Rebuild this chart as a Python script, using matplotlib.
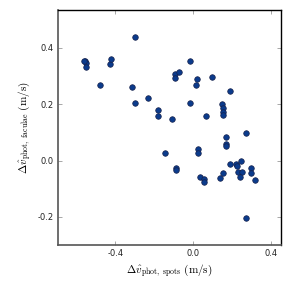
import matplotlib
matplotlib.use("Agg")
import matplotlib.pyplot as plt

plt.rcParams['mathtext.fontset'] = 'cm'

# delta v_phot from spots / faculae (m/s)
dv_spots = [-0.556, -0.553, -0.551, -0.563, -0.480, -0.429, -0.423, -0.297, -0.316,
            -0.299, -0.231, -0.180, -0.180, -0.112, -0.019, -0.015, -0.092, -0.092,
            -0.072, 0.018, 0.015, 0.098, 0.189, 0.065, 0.147, 0.150, 0.153, 0.153,
            0.272, 0.166, 0.166, 0.166, -0.147, 0.026, 0.026, -0.089, -0.089, 0.032,
            0.053, 0.057, 0.135, 0.153, 0.187, 0.217, 0.223, 0.242, 0.228, 0.250,
            0.238, 0.298, 0.293, 0.317, 0.272]
dv_faculae = [0.354, 0.345, 0.333, 0.353, 0.268, 0.342, 0.360, 0.438, 0.262,
              0.203, 0.223, 0.178, 0.159, 0.146, 0.203, 0.353, 0.307, 0.292,
              0.315, 0.288, 0.268, 0.298, 0.246, 0.158, 0.200, 0.186, 0.173, 0.160,
              0.098, 0.082, 0.060, 0.051, 0.027, 0.040, 0.027, -0.025, -0.033, -0.058,
              -0.067, -0.075, -0.062, -0.046, -0.014, -0.011, -0.020, -0.002, -0.042, -0.041,
              -0.057, -0.028, -0.043, -0.068, -0.203]

xticks = [-0.4, 0.0, 0.4]
yticks = [-0.2, 0.0, 0.2, 0.4]

fig = plt.figure(figsize=(2.91, 2.91), dpi=100)
ax = fig.add_axes([0.199, 0.158, 0.767, 0.808])

ax.scatter(dv_spots, dv_faculae, s=16, color='#0b3b8c', edgecolor='#15204a',
           linewidth=0.5, zorder=3)

ax.set_xlim(-0.695, 0.45)
ax.set_ylim(-0.30, 0.535)
ax.set_xticks(xticks)
ax.set_yticks(yticks)
ax.set_xticklabels(['%.1f' % t if t != 0 else '0.0' for t in xticks])
ax.set_yticklabels(['%.1f' % t if t != 0 else '0.0' for t in yticks])
ax.tick_params(direction='in', length=3, width=0.6, color='#999999',
               labelsize=6, pad=3, top=True, right=True, labelcolor='#222222')

for side in ['left', 'bottom']:
    ax.spines[side].set_color('#555555')
    ax.spines[side].set_linewidth(1.2)
for side in ['top', 'right']:
    ax.spines[side].set_color('k')
    ax.spines[side].set_linewidth(1.0)

ax.set_xlabel(r'$\Delta\hat{v}_{\rm phot,\ spots}\ ({\rm m/s})$', fontsize=8, labelpad=3)
ax.set_ylabel(r'$\Delta\hat{v}_{\rm phot,\ faculae}\ ({\rm m/s})$', fontsize=8, labelpad=3)

fig.savefig('out.png', dpi=100)
